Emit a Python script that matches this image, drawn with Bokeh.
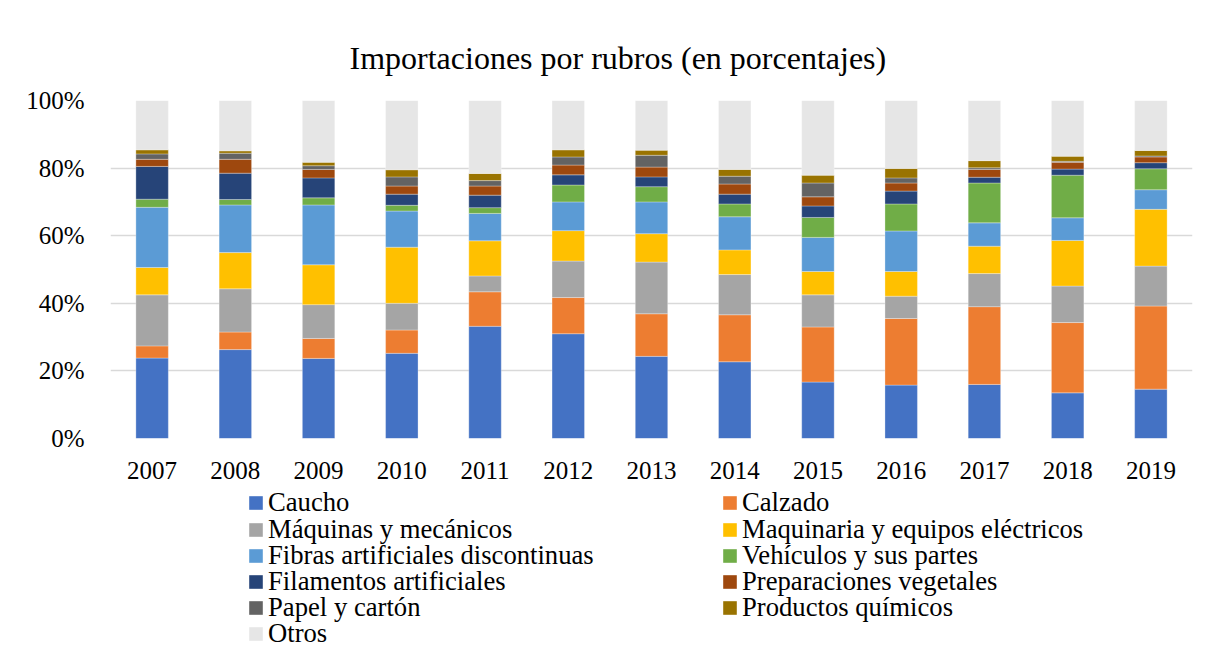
from bokeh.plotting import figure
from bokeh.layouts import column
from bokeh.models import Legend, LegendItem, FixedTicker, Range1d
from bokeh.embed import file_html
from bokeh.resources import INLINE

years = ["2007", "2008", "2009", "2010", "2011", "2012", "2013",
         "2014", "2015", "2016", "2017", "2018", "2019"]

caucho      = [23.8, 26.3, 23.7, 25.2, 33.2, 31.0, 24.3, 22.7, 16.7, 15.8, 16.0, 13.5, 14.6]
calzado     = [3.6, 5.2, 5.9, 6.9, 10.2, 10.7, 12.6, 13.9, 16.3, 19.7, 23.0, 20.8, 24.6]
maquinas    = [15.1, 12.8, 10.0, 7.9, 4.7, 10.8, 15.3, 11.9, 9.5, 6.6, 9.8, 10.8, 11.8]
maquinaria  = [8.1, 10.7, 11.8, 16.6, 10.4, 9.0, 8.4, 7.3, 6.9, 7.3, 8.1, 13.5, 16.8]
fibras      = [17.8, 14.1, 17.7, 10.7, 8.1, 8.5, 9.4, 9.8, 10.1, 12.0, 6.9, 6.7, 5.8]
vehiculos   = [2.4, 1.6, 2.1, 1.7, 1.7, 5.0, 4.5, 3.8, 5.9, 8.0, 11.8, 12.6, 6.2]
filamentos  = [9.7, 7.8, 5.9, 3.3, 3.7, 3.0, 2.9, 2.9, 3.4, 3.8, 1.7, 1.8, 1.8]
preparac    = [2.1, 4.1, 2.5, 2.4, 2.7, 2.9, 2.9, 3.0, 2.7, 2.4, 2.3, 2.0, 1.7]
papel       = [1.6, 1.8, 1.1, 2.7, 1.6, 2.4, 3.5, 2.3, 4.1, 1.5, 0.5, 0.3, 0.3]
quimicos    = [1.2, 0.7, 1.0, 2.1, 2.1, 2.1, 1.5, 2.0, 2.3, 2.8, 2.1, 1.5, 1.6]
otros       = [14.6, 14.9, 18.3, 20.5, 21.6, 14.6, 14.7, 20.4, 22.1, 20.1, 17.8, 16.5, 14.8]

series_names = ["Caucho", "Calzado", "Máquinas y mecánicos", "Maquinaria y equipos eléctricos",
                "Fibras artificiales discontinuas", "Vehículos y sus partes",
                "Filamentos artificiales", "Preparaciones vegetales", "Papel y cartón",
                "Productos químicos", "Otros"]
series_values = [caucho, calzado, maquinas, maquinaria, fibras, vehiculos,
                 filamentos, preparac, papel, quimicos, otros]
colors = ["#4472C4", "#ED7D31", "#A5A5A5", "#FFC000", "#5B9BD5", "#70AD47",
          "#264478", "#9E480E", "#636363", "#997300", "#E6E6E6"]

y_ticks = [0, 20, 40, 60, 80, 100]
y_tick_labels = ["0%", "20%", "40%", "60%", "80%", "100%"]

title_text = "Importaciones por rubros (en porcentajes)"
FONT = "Liberation Serif"

keys = ["s%d" % i for i in range(len(series_names))]
data = {"years": years}
for k, v in zip(keys, series_values):
    data[k] = v

# ---------------- main chart ----------------
p = figure(x_range=years, y_range=Range1d(0, 100), width=1211, height=486,
           output_backend="svg", toolbar_location=None,
           min_border_left=110, min_border_right=19, min_border_top=100,
           min_border_bottom=48)

p.vbar_stack(keys, x="years", width=0.39, color=colors, source=data,
             line_color="white", line_width=0.6, line_alpha=0.5)

p.title.text = title_text
p.title.text_font = FONT
p.title.text_font_size = "32px"
p.title.text_font_style = "normal"
p.title.text_color = "#000000"
p.title.align = "left"
p.title.offset = 239
p.title.standoff = 49

p.outline_line_color = None
p.xgrid.grid_line_color = None
p.ygrid.grid_line_color = "#D9D9D9"
p.ygrid.grid_line_width = 1.5
p.ygrid.ticker = FixedTicker(ticks=y_ticks)

p.yaxis.ticker = FixedTicker(ticks=y_ticks)
p.yaxis.major_label_overrides = {t: l for t, l in zip(y_ticks, y_tick_labels)}
for ax in (p.xaxis[0], p.yaxis[0]):
    ax.axis_line_color = None
    ax.major_tick_line_color = None
    ax.minor_tick_line_color = None
    ax.major_label_text_font = FONT
    ax.major_label_text_font_size = "25px"
    ax.major_label_text_color = "#000000"
p.yaxis.major_label_standoff = 20
p.xaxis.major_label_standoff = 17

# ---------------- legend strip (two columns, one legend per entry) ----------------
q = figure(width=1211, height=162, output_backend="svg", toolbar_location=None,
           x_axis_type=None, y_axis_type=None,
           min_border_left=0, min_border_right=0, min_border_top=0, min_border_bottom=0)
q.outline_line_color = None
q.grid.visible = False

# zero-size swatch renderers that only provide the legend colours
swatches = [q.vbar(x=[0], top=[0], bottom=[0], width=0, color=c, line_alpha=0)
            for c in colors]

ROW_STEP = 26.2
for i, (name, r) in enumerate(zip(series_names, swatches)):
    row, col = divmod(i, 2)
    vx = 137 if col == 0 else 611
    vy = 129.6 - ROW_STEP * row
    lg = Legend(items=[LegendItem(label=name, renderers=[r])], location=(vx, vy),
                orientation="vertical",
                label_text_font=FONT, label_text_font_size="26.67px",
                label_text_color="#000000", glyph_width=17, glyph_height=17,
                label_standoff=4, spacing=0, padding=0, margin=0,
                border_line_color=None, background_fill_alpha=0,
                label_height=14)
    q.add_layout(lg, "center")

layout = column(p, q, spacing=0)
open("out.html", "w").write(file_html(layout, INLINE))
